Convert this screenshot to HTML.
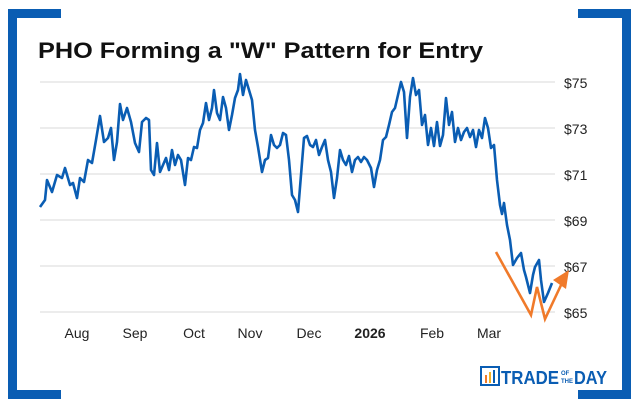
<!DOCTYPE html>
<html><head><meta charset="utf-8"><style>
html,body{margin:0;padding:0;background:#fff;}
svg{display:block;font-family:"Liberation Sans",sans-serif;}
</style></head><body>
<svg width="640" height="407" viewBox="0 0 640 407">
<rect width="640" height="407" fill="#fff"/>
<g fill="#0a5db3">
<rect x="8" y="9" width="9" height="390"/>
<rect x="8" y="9" width="53" height="9"/>
<rect x="8" y="390" width="53" height="9"/>
<rect x="622" y="9" width="9" height="390"/>
<rect x="578" y="9" width="53" height="9"/>
<rect x="578" y="390" width="53" height="9"/>
</g>
<text x="38" y="58" font-size="22" font-weight="bold" fill="#111" textLength="445" lengthAdjust="spacingAndGlyphs">PHO Forming a "W" Pattern for Entry</text>
<g stroke="#d9d9d9" stroke-width="1">
<line x1="40" y1="82" x2="555" y2="82"/>
<line x1="40" y1="128" x2="555" y2="128"/>
<line x1="40" y1="174" x2="555" y2="174"/>
<line x1="40" y1="220" x2="555" y2="220"/>
<line x1="40" y1="266" x2="555" y2="266"/>
<line x1="40" y1="312" x2="555" y2="312"/>
</g>
<g font-size="14" fill="#222">
<text x="564" y="88">$75</text>
<text x="564" y="134">$73</text>
<text x="564" y="180">$71</text>
<text x="564" y="226">$69</text>
<text x="564" y="272">$67</text>
<text x="564" y="318">$65</text>
</g>
<g font-size="14" fill="#222" text-anchor="middle">
<text x="77" y="338">Aug</text>
<text x="135" y="338">Sep</text>
<text x="194" y="338">Oct</text>
<text x="250" y="338">Nov</text>
<text x="309" y="338">Dec</text>
<text x="370" y="338" font-weight="bold">2026</text>
<text x="432" y="338">Feb</text>
<text x="489" y="338">Mar</text>
</g>
<polyline fill="none" stroke="#0a5db3" stroke-width="2.6" stroke-linejoin="round" points="40,207 45,200 47,180 52,192 57,175 62,178 65,168 70,185 73,183 77,198 80,178 84,182 88,160 92,163 96,140 100,116 104,142 108,138 111,128 114,160 117,142 120,104 123,120 127,108 131,122 135,143 139,152 142,122 146,118 149,120 151,170 154,175 157,143 160,172 163,165 166,158 169,170 172,150 175,165 178,155 181,160 185,185 188,158 191,160 194,147 197,148 200,130 203,123 206,103 209,120 212,108 214,90 217,113 220,120 223,97 226,108 229,130 232,115 235,98 238,90 240,74 243,95 246,80 249,90 252,100 255,130 258,147 262,172 265,160 268,158 271,135 274,145 277,148 280,145 283,133 286,135 289,160 292,195 295,200 298,212 301,175 304,138 307,136 310,145 313,147 316,140 319,155 322,147 325,140 328,160 331,172 334,198 337,178 340,150 343,160 346,165 349,156 352,172 355,160 358,157 361,162 364,157 367,160 371,168 374,187 377,170 380,160 383,140 386,137 389,125 392,112 395,108 398,95 401,82 404,92 407,138 410,97 413,78 416,95 419,90 422,125 425,115 428,145 431,128 434,146 437,122 440,146 443,135 446,98 449,125 452,112 455,142 458,128 461,140 464,132 467,128 470,137 473,130 476,147 479,130 482,138 485,118 488,128 491,148 494,145 497,180 500,205 502,214 504,203 507,225 510,240 513,265 517,258 521,253 524,270 526,277 528,285 530,293 533,275 535,267 539,260 541,280 544,302 548,293 552,283"/>
<polyline fill="none" stroke="#f07a2a" stroke-width="2.6" stroke-linejoin="miter" points="496,252 531,315 537,287 545,319 562,283"/>
<polygon fill="#f07a2a" points="569,270 566,289 553,280"/>
<g transform="translate(481,366)">
<rect x="0" y="1" width="18" height="18" fill="none" stroke="#0a5db3" stroke-width="2"/>
<rect x="4" y="9" width="2" height="8" fill="#f07a2a"/>
<rect x="8" y="6" width="2" height="11" fill="#f5b021"/>
<rect x="12" y="4" width="2" height="13" fill="#0a5db3"/>
<text x="20" y="18" font-size="18" font-weight="bold" fill="#0a5db3" textLength="58" lengthAdjust="spacingAndGlyphs">TRADE</text>
<text x="80" y="9" font-size="6" font-weight="bold" fill="#0a5db3">OF</text>
<text x="80" y="17" font-size="6" font-weight="bold" fill="#0a5db3">THE</text>
<text x="93" y="18" font-size="18" font-weight="bold" fill="#0a5db3" textLength="33" lengthAdjust="spacingAndGlyphs">DAY</text>
</g>
</svg>
</body></html>
